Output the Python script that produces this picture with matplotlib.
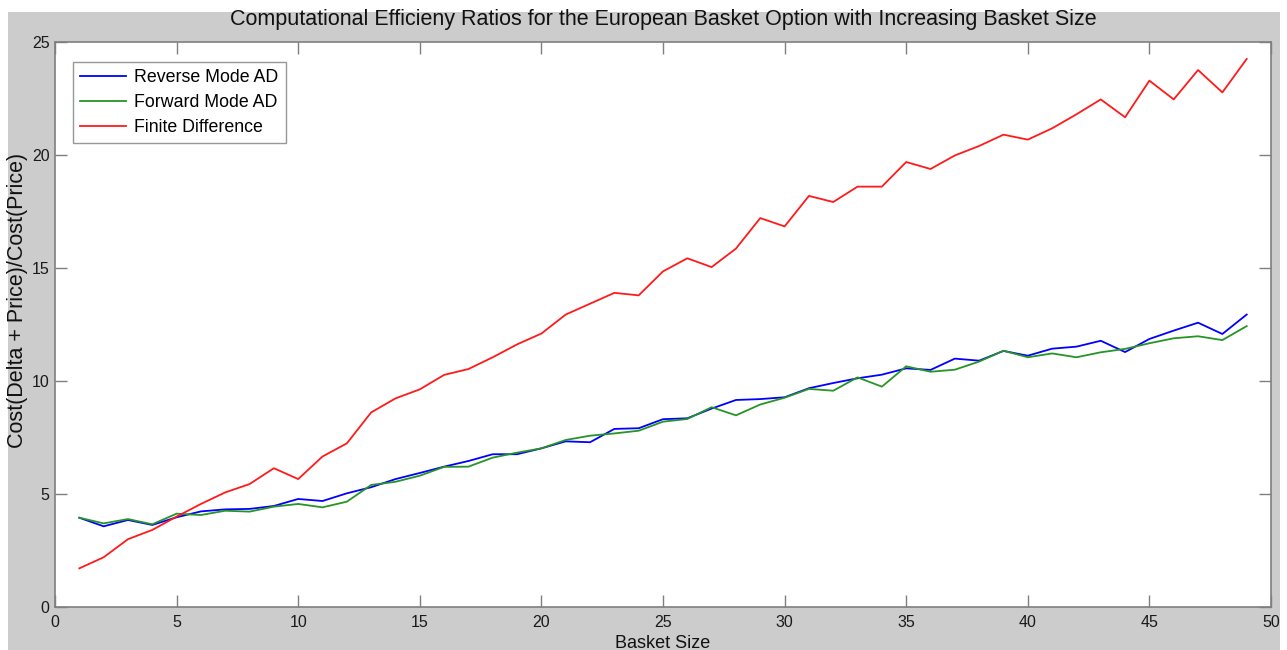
import matplotlib
matplotlib.use("Agg")
import matplotlib.pyplot as plt
from matplotlib.patches import Rectangle
from matplotlib import font_manager

basket_size = list(range(1, 50))
reverse_ad = [3.95, 3.57, 3.85, 3.63, 3.97, 4.23, 4.32, 4.34, 4.47, 4.78,
              4.69, 5.03, 5.30, 5.66, 5.93, 6.21, 6.46, 6.76, 6.76, 7.02,
              7.33, 7.29, 7.88, 7.91, 8.31, 8.35, 8.78, 9.16, 9.20, 9.28,
              9.68, 9.91, 10.12, 10.28, 10.56, 10.49, 10.99, 10.90, 11.33, 11.12,
              11.43, 11.52, 11.78, 11.28, 11.86, 12.23, 12.58, 12.08, 12.94]
forward_ad = [3.95, 3.70, 3.89, 3.66, 4.13, 4.07, 4.26, 4.22, 4.44, 4.56,
              4.41, 4.66, 5.40, 5.54, 5.81, 6.20, 6.21, 6.61, 6.83, 7.02,
              7.39, 7.58, 7.68, 7.80, 8.20, 8.32, 8.84, 8.48, 8.96, 9.26,
              9.65, 9.57, 10.16, 9.75, 10.65, 10.41, 10.50, 10.86, 11.34, 11.05,
              11.22, 11.05, 11.27, 11.42, 11.67, 11.89, 11.98, 11.81, 12.43]
finite_diff = [1.71, 2.20, 3.00, 3.41, 4.00, 4.56, 5.07, 5.44, 6.14, 5.66,
               6.66, 7.24, 8.61, 9.23, 9.63, 10.27, 10.53, 11.05, 11.62, 12.10,
               12.94, 13.42, 13.90, 13.79, 14.85, 15.43, 15.04, 15.86, 17.21, 16.84,
               18.19, 17.92, 18.60, 18.60, 19.69, 19.38, 19.98, 20.40, 20.90, 20.68,
               21.18, 21.80, 22.46, 21.67, 23.29, 22.46, 23.76, 22.77, 24.25]

series_labels = ["Reverse Mode AD", "Forward Mode AD", "Finite Difference"]
title_text = "Computational Efficieny Ratios for the European Basket Option with Increasing Basket Size"
xlabel_text = "Basket Size"
ylabel_text = "Cost(Delta + Price)/Cost(Price)"
xticks = list(range(0, 51, 5))
yticks = list(range(0, 26, 5))

installed = {f.name for f in font_manager.fontManager.ttflist}
narrow = "Liberation Sans Narrow" if "Liberation Sans Narrow" in installed else "Liberation Sans"
plt.rcParams["font.family"] = ["Liberation Sans", "DejaVu Sans"]

W, H = 1287, 650
fig = plt.figure(figsize=(W / 100, H / 100), dpi=100, facecolor="white")
fig.patches.append(Rectangle((8 / W, 0), (1280 - 8) / W, (H - 12) / H,
                             transform=fig.transFigure, facecolor="#cccccc",
                             edgecolor="none", zorder=-10))

ax = fig.add_axes([55 / W, (H - 607) / H, (1271 - 55) / W, (607 - 42) / H])
ax.set_facecolor("white")
ax.plot(basket_size, reverse_ad, color=(0, 0, 1), lw=1.3, label=series_labels[0])
ax.plot(basket_size, forward_ad, color=(0.15, 0.58, 0.15), lw=1.3, label=series_labels[1])
ax.plot(basket_size, finite_diff, color=(1, 0.1, 0.1), lw=1.3, label=series_labels[2])

ax.set_xlim(0, 50)
ax.set_ylim(0, 25)
ax.set_xticks(xticks)
ax.set_yticks(yticks)
for s in ax.spines.values():
    s.set_color("#7f7f7f")
    s.set_linewidth(1.2)
ax.tick_params(direction="in", length=8.5, width=1.0, color="#7f7f7f",
               top=True, right=True, labelsize=11.5, labelcolor="#1a1a1a")
ax.tick_params(axis="x", pad=6)
ax.tick_params(axis="y", pad=4)

ax.set_title(title_text, fontsize=15.5, family=[narrow, "DejaVu Sans"], color="#111111", pad=12)
ax.set_xlabel(xlabel_text, fontsize=13, labelpad=3, color="#111111")
ax.set_ylabel(ylabel_text, fontsize=15.5, color="#111111")
ax.yaxis.set_label_coords(-0.0225, 0.542)

leg = ax.legend(loc="upper left", bbox_to_anchor=(0.0148, 0.965), borderaxespad=0,
                fontsize=12.8, frameon=True, fancybox=False, edgecolor="#7f7f7f",
                handlelength=2.6, borderpad=0.4, labelspacing=0.45, handletextpad=0.45)
leg.get_frame().set_linewidth(1.0)

fig.savefig("out.png", dpi=100, facecolor="white")
